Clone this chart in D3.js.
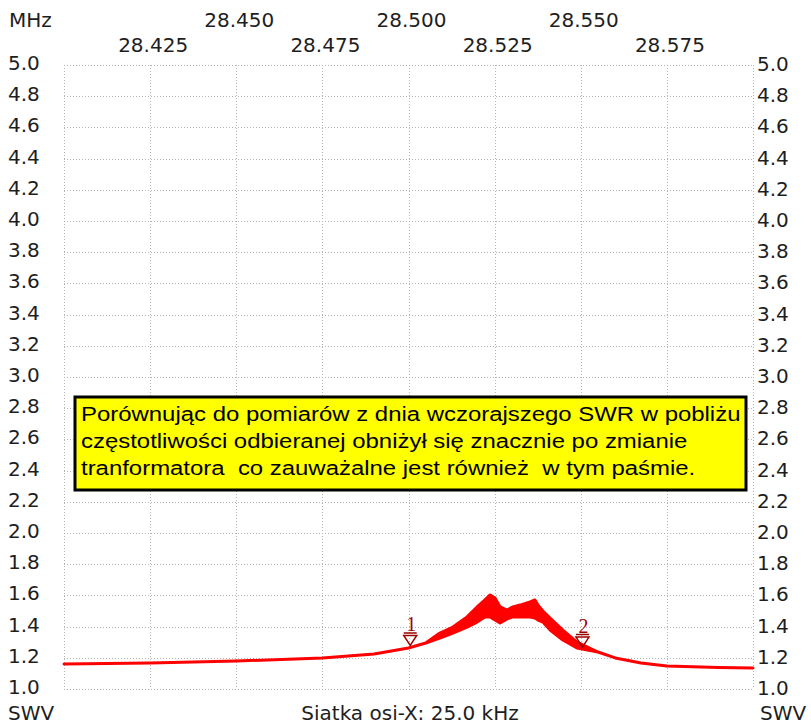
<!DOCTYPE html>
<html>
<head>
<meta charset="utf-8">
<script src="https://cdn.jsdelivr.net/npm/d3@7"></script>
<style>
  body { margin: 0; background: #fff; }
  text { font-family: "DejaVu Sans", sans-serif; }
</style>
</head>
<body>
<svg id="plot" width="811" height="728"></svg>
<script>
// data
var freqTicks = [28.400, 28.425, 28.450, 28.475, 28.500, 28.525, 28.550, 28.575, 28.600];
var swrTicks = [1.0, 1.2, 1.4, 1.6, 1.8, 2.0, 2.2, 2.4, 2.6, 2.8, 3.0, 3.2, 3.4, 3.6, 3.8, 4.0, 4.2, 4.4, 4.6, 4.8, 5.0];
var freqs   = [28.400, 28.425, 28.450, 28.475, 28.490, 28.500, 28.505, 28.5091, 28.5129, 28.5170, 28.5199, 28.5222, 28.5237, 28.5251, 28.5266, 28.5286, 28.5303, 28.5324, 28.5353, 28.5367, 28.5376, 28.5390, 28.5411, 28.5448, 28.5489, 28.555, 28.560, 28.5675, 28.575, 28.590, 28.600];
var swrLow  = [1.160, 1.167, 1.179, 1.199, 1.224, 1.263, 1.295, 1.327, 1.359, 1.397, 1.429, 1.462, 1.462, 1.442, 1.423, 1.449, 1.462, 1.462, 1.462, 1.455, 1.442, 1.429, 1.378, 1.314, 1.263, 1.237, 1.199, 1.167, 1.147, 1.138, 1.135];
var swrHigh = [1.160, 1.167, 1.179, 1.199, 1.224, 1.263, 1.295, 1.359, 1.397, 1.462, 1.526, 1.571, 1.603, 1.583, 1.526, 1.506, 1.526, 1.538, 1.558, 1.571, 1.538, 1.500, 1.455, 1.378, 1.301, 1.237, 1.199, 1.167, 1.147, 1.138, 1.135];
var markerFreqs = [28.5005, 28.5505];
var markerNames = ["1", "2"];
var noteLines = [
  "Porównując do pomiarów z dnia wczorajszego SWR w pobliżu",
  "częstotliwości odbieranej obniżył się znacznie po zmianie",
  "tranformatora  co zauważalne jest również  w tym paśmie."
];

var svg = d3.select('#plot');
var x = d3.scaleLinear().domain([28.400, 28.600]).range([64, 753]);
var y = d3.scaleLinear().domain([1.0, 5.0]).range([689, 65]);
var textColor = '#1e1e1e';

//grid
svg.append('g').selectAll('line')
    .data(swrTicks)
    .enter().append('line')
    .attr('x1', x.range()[0]).attr('x2', x.range()[1])
    .attr('y1', function(d) { return Math.round(y(d)) + 0.5; })
    .attr('y2', function(d) { return Math.round(y(d)) + 0.5; })
    .style('stroke', '#b4b4b4')
    .style('stroke-dasharray', '1,2');
svg.append('g').selectAll('line')
    .data(freqTicks)
    .enter().append('line')
    .attr('x1', function(d) { return Math.round(x(d)) + 0.5; })
    .attr('x2', function(d) { return Math.round(x(d)) + 0.5; })
    .attr('y1', y.range()[1]).attr('y2', y.range()[0])
    .style('stroke', '#b4b4b4')
    .style('stroke-dasharray', '1,2');

//y labels both sides
svg.append('g').selectAll('text')
    .data(swrTicks)
    .enter().append('text')
    .attr('x', 8)
    .attr('y', function(d) { return y(d) + 5; })
    .style('font-size', '20px')
    .style('fill', textColor)
    .text(function(d) { return d.toFixed(1); });
svg.append('g').selectAll('text')
    .data(swrTicks)
    .enter().append('text')
    .attr('x', 757)
    .attr('y', function(d) { return y(d) + 6; })
    .style('font-size', '20px')
    .style('fill', textColor)
    .text(function(d) { return d.toFixed(1); });

//x labels, two staggered rows, ends unlabeled
var inner = freqTicks.slice(1, -1);
svg.append('g').selectAll('text')
    .data(inner)
    .enter().append('text')
    .attr('x', function(d) { return x(d) + 3; })
    .attr('y', function(d, i) { return i % 2 == 0 ? 52 : 27; })
    .attr('text-anchor', 'middle')
    .style('font-size', '20px')
    .style('fill', textColor)
    .text(function(d) { return d.toFixed(3); });

svg.append('text').attr('x', 9).attr('y', 27)
    .style('font-size', '20px').style('fill', textColor).text('MHz');
svg.append('text').attr('x', 8).attr('y', 720)
    .style('font-size', '20px').style('fill', textColor).text('SWV');
svg.append('text').attr('x', 760).attr('y', 720)
    .style('font-size', '20px').style('fill', textColor).text('SWV');
svg.append('text').attr('x', 410).attr('y', 720)
    .attr('text-anchor', 'middle')
    .style('font-size', '20px').style('fill', textColor).text('Siatka osi-X: 25.0 kHz');

//swr trace, drawn as min/max band
var pts = freqs.map(function(f, i) { return {f: f, lo: swrLow[i], hi: swrHigh[i]}; });
var band = d3.area()
    .x(function(d) { return x(d.f); })
    .y0(function(d) { return y(d.lo); })
    .y1(function(d) { return y(d.hi); });
svg.append('path')
    .datum(pts)
    .attr('d', band)
    .style('fill', '#ff0000')
    .style('stroke', '#ff0000')
    .style('stroke-width', 3)
    .style('stroke-linejoin', 'round');

//markers
function interp(f) {
    var i = d3.bisectLeft(freqs, f);
    var t = (f - freqs[i - 1]) / (freqs[i] - freqs[i - 1]);
    return swrLow[i - 1] + t * (swrLow[i] - swrLow[i - 1]);
}
var mk = svg.append('g').selectAll('g')
    .data(markerFreqs)
    .enter().append('g')
    .attr('transform', function(d) { return 'translate(' + x(d) + ',' + (y(interp(d)) - 1) + ')'; });
mk.append('path')
    .attr('d', 'M-6.5,-11 L6.5,-11 L0,-1 Z M-6.5,-13.5 L6.5,-13.5')
    .style('fill', 'none')
    .style('stroke', '#9a0000')
    .style('stroke-width', 1.5);
mk.append('text')
    .attr('x', 1).attr('y', -15)
    .attr('text-anchor', 'middle')
    .style('font-family', '"Liberation Serif", serif')
    .style('font-size', '20px')
    .style('fill', '#9a0000')
    .text(function(d, i) { return markerNames[i]; });

//note box
svg.append('rect')
    .attr('x', 75).attr('y', 397)
    .attr('width', 671).attr('height', 93)
    .style('fill', '#ffff00')
    .style('stroke', '#000')
    .style('stroke-width', 3);
svg.append('g')
    .attr('transform', 'translate(81,0) scale(1.14,1)')
    .selectAll('text')
    .data(noteLines)
    .enter().append('text')
    .attr('x', 0)
    .attr('y', function(d, i) { return 421 + i * 27; })
    .style('font-family', '"Liberation Sans", Arial, sans-serif')
    .style('font-size', '21px')
    .style('white-space', 'pre')
    .style('fill', '#000')
    .text(function(d) { return d; });
</script>
</body>
</html>
